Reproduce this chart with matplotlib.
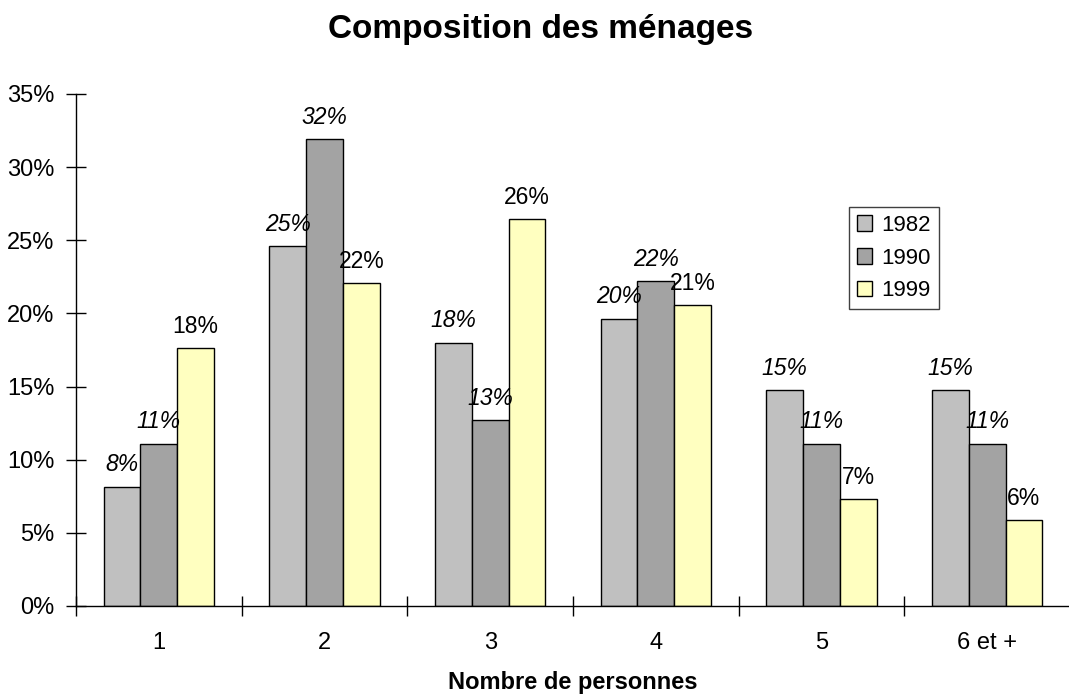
import numpy as np
import matplotlib
matplotlib.use("Agg")
import matplotlib.pyplot as plt
from matplotlib.ticker import FuncFormatter, FixedLocator

plt.rcParams['font.family'] = ['Liberation Sans', 'DejaVu Sans']

# data (percent of households)
categories = ["1", "2", "3", "4", "5", "6 et +"]
years = ["1982", "1990", "1999"]
v1982 = [8.16, 24.6, 18.0, 19.64, 14.75, 14.75]
v1990 = [11.1, 31.9, 12.69, 22.2, 11.1, 11.1]
v1999 = [17.65, 22.07, 26.46, 20.57, 7.32, 5.87]
colors = ["#C0C0C0", "#A3A3A3", "#FFFFC0"]
italic = [True, True, False]

fig = plt.figure(figsize=(10.69, 6.98), dpi=100)
ax = fig.add_axes([76/1069, 1-606/698, 994/1069, 512/698])

x = np.arange(len(categories))
w = 1/4.5
series = [v1982, v1990, v1999]
for i, vals in enumerate(series):
    pos = x + (i-1)*w
    ax.bar(pos, vals, width=w, color=colors[i], edgecolor="black", linewidth=1.0,
           label=years[i], zorder=2)
    for px, v in zip(pos, vals):
        ax.annotate(f"{round(v):.0f}%", (px, v), xytext=(0, 11), textcoords="offset points",
                    ha="center", va="baseline", fontsize=16.5,
                    fontstyle="italic" if italic[i] else "normal")

ax.set_xlim(-0.5, 5.5)
ax.set_ylim(0, 35)
ax.set_yticks(np.arange(0, 36, 5))
ax.yaxis.set_major_formatter(FuncFormatter(lambda v, p: f"{v:.0f}%"))
ax.tick_params(axis="y", direction="inout", length=15, width=1, labelsize=17, pad=8)

# category boundaries get the tick marks, centers get the labels
ax.xaxis.set_major_locator(FixedLocator(np.arange(-0.5, 6, 1)))
ax.xaxis.set_minor_locator(FixedLocator(x))
ax.set_xticklabels([])
ax.set_xticklabels(categories, minor=True)
ax.tick_params(axis="x", which="major", direction="inout", length=14, width=1)
ax.tick_params(axis="x", which="minor", length=0, labelsize=17, pad=19)

for s in ["top", "right"]:
    ax.spines[s].set_visible(False)
ax.spines["left"].set_linewidth(1)
ax.spines["bottom"].set_linewidth(1)

fig.text(541/1069, 1-38/698, "Composition des ménages", ha="center", va="baseline",
         fontsize=24, fontweight="bold")
fig.text((76+497)/1069, 1-689/698, "Nombre de personnes", ha="center", va="baseline",
         fontsize=17, fontweight="bold")

leg = ax.legend(loc="upper left", bbox_to_anchor=(849/1069, 1-207/698),
                bbox_transform=fig.transFigure, borderaxespad=0, fontsize=16,
                fancybox=False, framealpha=1, edgecolor="#404040",
                handlelength=0.7, handleheight=0.7, handletextpad=0.4,
                labelspacing=0.53, borderpad=0.35)
leg.get_frame().set_linewidth(1)

fig.savefig("out.png", dpi=100)
